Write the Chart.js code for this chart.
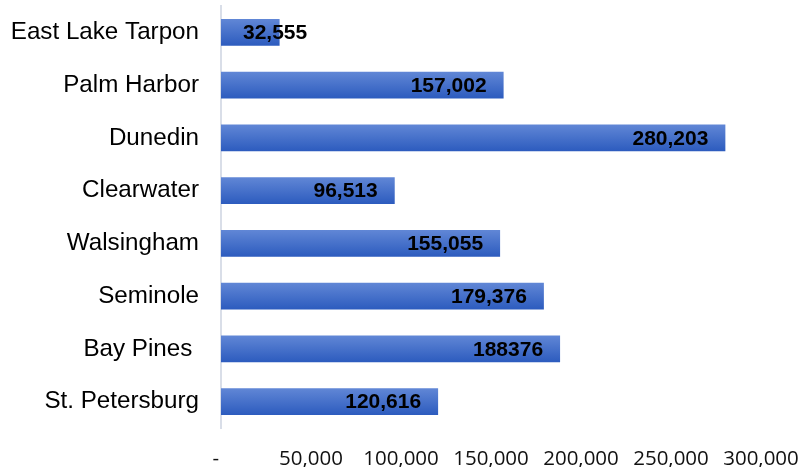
<!DOCTYPE html>
<html>
<head>
<meta charset="utf-8">
<script src="https://cdn.jsdelivr.net/npm/chart.js@4"></script>
<style>
  html, body { margin: 0; padding: 0; background: #fff; }
  #wrap { width: 800px; height: 467px; }
</style>
</head>
<body>
<div id="wrap"><canvas id="barChart"></canvas></div>
<script>
// data
var areas = ['East Lake Tarpon', 'Palm Harbor', 'Dunedin', 'Clearwater', 'Walsingham', 'Seminole', 'Bay Pines ', 'St. Petersburg'];
var counts = [32555, 157002, 280203, 96513, 155055, 179376, 188376, 120616];
var countLabels = ['32,555', '157,002', '280,203', '96,513', '155,055', '179,376', '188376', '120,616'];
var xTicks = [0, 50000, 100000, 150000, 200000, 250000, 300000];

// vertical gradient for each bar
function barFill(context) {
  var chart = context.chart;
  var y = chart.scales.y;
  if (!chart.chartArea || !y) return '#4a74cc';
  var meta = chart.getDatasetMeta(context.datasetIndex);
  var bar = meta.data[context.dataIndex];
  var h = bar && bar.height ? bar.height / 2 : 13.5;
  var yc = y.getPixelForValue(context.dataIndex);
  var g = chart.ctx.createLinearGradient(0, yc - h, 0, yc + h);
  g.addColorStop(0, '#6187d6');
  g.addColorStop(1, '#2c5bbe');
  return g;
}

// value labels at the inner end of the bars
var valueLabels = {
  id: 'valueLabels',
  afterDatasetsDraw: function (chart) {
    var ctx = chart.ctx;
    var meta = chart.getDatasetMeta(0);
    ctx.save();
    ctx.font = 'bold 21px "Liberation Sans", Arial, sans-serif';
    ctx.fillStyle = '#000';
    ctx.textAlign = 'right';
    ctx.textBaseline = 'middle';
    meta.data.forEach(function (bar, i) {
      var txt = countLabels[i];
      var w = ctx.measureText(txt).width;
      var right = Math.max(bar.x - 17, bar.base + 22 + w);
      ctx.fillText(txt, right, bar.y + 1);
    });
    ctx.restore();
  }
};

var barCtx = document.getElementById('barChart').getContext('2d');
var barChart = new Chart(barCtx, {
  type: 'bar',
  data: {
    labels: areas,
    datasets: [{
      data: counts,
      backgroundColor: barFill,
      borderWidth: 0,
      barPercentage: 0.51,
      categoryPercentage: 1
    }]
  },
  options: {
    indexAxis: 'y',
    responsive: true,
    maintainAspectRatio: false,
    animation: false,
    layout: { padding: { top: 6, left: 0, right: 39, bottom: 0 } },
    plugins: {
      legend: { display: false },
      tooltip: { enabled: false }
    },
    scales: {
      x: {
        min: 0,
        max: 300000,
        afterBuildTicks: function (scale) {
          scale.ticks = xTicks.map(function (v) { return { value: v }; });
        },
        afterFit: function (scale) {
          scale.paddingLeft = 0;
          scale.paddingRight = 0;
          scale.height = 39;
        },
        grid: { display: false, drawTicks: false, tickLength: 0 },
        border: { display: false },
        ticks: {
          padding: 21,
          color: '#111',
          maxRotation: 0,
          autoSkip: false,
          font: { family: '"Open Sans", sans-serif', size: 20.5, lineHeight: 1 },
          callback: function (v) {
            return v === 0 ? '-  ' : v.toLocaleString('en-US');
          }
        }
      },
      y: {
        afterFit: function (scale) {
          scale.width = 221;
          scale.paddingTop = 0;
          scale.paddingBottom = 0;
        },
        grid: { display: false, drawTicks: false, tickLength: 0 },
        border: { display: true, color: '#d9dee8', width: 2 },
        ticks: {
          padding: 22,
          color: '#000',
          autoSkip: false,
          font: { family: '"Liberation Sans", Arial, sans-serif', size: 24.2 }
        }
      }
    }
  },
  plugins: [valueLabels]
});
</script>
</body>
</html>
